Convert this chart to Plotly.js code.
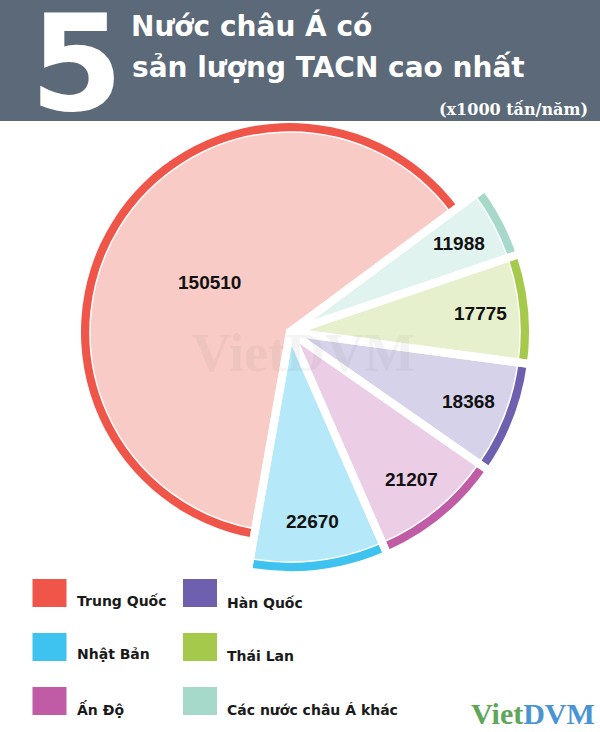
<!DOCTYPE html>
<html>
<head>
<meta charset="utf-8">
<script src="https://cdn.plot.ly/plotly-3.0.1.min.js"></script>
<style>
html,body{margin:0;padding:0;background:#ffffff;}
#chart{width:600px;height:732px;}
</style>
</head>
<body>
<div id="chart"></div>
<script>
// ---------- data ----------
const countries = ['Trung Quốc', 'Nhật Bản', 'Ấn Độ', 'Hàn Quốc', 'Thái Lan', 'Các nước châu Á khác'];
const values = [150510, 22670, 21207, 18368, 17775, 11988];
const darkColors = ['#ef5548', '#3ec3f0', '#c05ba5', '#6e60ae', '#a5ca4b', '#a7d9ca'];
const lightColors = ['#f9cbc6', '#b5e8f9', '#ebcde6', '#d6d2ea', '#e6f0cd', '#e1f3ee'];
const legendOrder = [0, 3, 1, 4, 2, 5]; // row-wise: col1 / col2

// ---------- geometry / style ----------
const W = 600, H = 732;
const CX = 290, CY = 332;
const R_BIG = 209, R_SMALL = 239, RING = 9, ROT = 190;

function dom(r) {
  return {x: [(CX - r) / W, (CX + r) / W], y: [(H - CY - r) / H, (H - CY + r) / H]};
}
const chinaMask = values.map((v, i) => i === 0);
const smallMask = values.map((v, i) => i !== 0);
const allMask = values.map(() => true);

function pieTrace(r, colors, mask, lineW, lineMask) {
  return {
    type: 'pie', values: values, labels: countries, sort: false,
    direction: 'counterclockwise', rotation: ROT,
    domain: dom(r), textinfo: 'none', hoverinfo: 'skip', showlegend: false,
    marker: {
      colors: colors.map((c, i) => mask[i] ? c : 'rgba(0,0,0,0)'),
      line: {color: '#ffffff', width: (lineMask || mask).map(m => m ? lineW : 0)}
    }
  };
}

const transparent = values.map(() => 'rgba(0,0,0,0)');
const data = [
  pieTrace(R_BIG, darkColors, chinaMask, 0),
  pieTrace(R_BIG - RING, lightColors, chinaMask, 1.5),
  pieTrace(R_SMALL, darkColors, smallMask, 0),
  pieTrace(R_SMALL - RING, lightColors, smallMask, 1.5),
  pieTrace(R_SMALL + 5, transparent, allMask, 8, allMask)
];

// ---------- slice value labels (from data angles) ----------
const total = values.reduce((a, b) => a + b, 0);
const deg = values.map(v => v / total * 360);
const mids = [];
mids[0] = ROT + deg[0] / 2;
let acc = 0;
for (let i = 1; i < values.length; i++) {
  mids[i] = ROT - acc - deg[i] / 2;
  acc += deg[i];
}
const annotations = [];
values.forEach((v, i) => {
  const r = i === 0 ? 0.45 * R_BIG : 0.80 * R_SMALL;
  const a = mids[i] * Math.PI / 180;
  const x = CX + r * Math.sin(a);
  const y = CY - r * Math.cos(a);
  annotations.push({
    xref: 'paper', yref: 'paper', x: x / W, y: 1 - y / H,
    xanchor: 'center', yanchor: 'middle', showarrow: false,
    text: String(v),
    font: {family: 'Liberation Sans, Arial, sans-serif', size: 19, color: '#111111', weight: 'bold'}
  });
});

// ---------- header ----------
function px(x) { return x / W; }
function py(y) { return 1 - y / H; }
const shapes = [
  {type: 'rect', xref: 'paper', yref: 'paper', x0: 0, x1: 1, y0: py(121), y1: 1,
   fillcolor: '#5b6978', line: {width: 0}, layer: 'above'}
];
annotations.push(
  {xref: 'paper', yref: 'paper', x: px(28), y: py(64), xanchor: 'left', yanchor: 'middle',
   showarrow: false, text: '5',
   font: {family: 'DejaVu Sans', size: 134, color: '#ffffff', weight: 'bold'}},
  {xref: 'paper', yref: 'paper', x: px(129), y: py(25.5), xanchor: 'left', yanchor: 'middle',
   showarrow: false, text: 'Nước châu Á có',
   font: {family: 'DejaVu Sans', size: 28, color: '#ffffff', weight: 'bold'}},
  {xref: 'paper', yref: 'paper', x: px(130), y: py(67.5), xanchor: 'left', yanchor: 'middle',
   showarrow: false, text: 'sản lượng TACN cao nhất',
   font: {family: 'DejaVu Sans', size: 28, color: '#ffffff', weight: 'bold'}},
  {xref: 'paper', yref: 'paper', x: px(590), y: py(109), xanchor: 'right', yanchor: 'middle',
   showarrow: false, text: '(x1000 tấn/năm)',
   font: {family: 'DejaVu Serif', size: 16, color: '#ffffff', weight: 'bold'}}
);

// ---------- watermark + logo ----------
annotations.push(
  {xref: 'paper', yref: 'paper', x: px(303), y: py(353), xanchor: 'center', yanchor: 'middle',
   showarrow: false, text: 'VietDVM',
   font: {family: 'Liberation Serif', size: 54, color: 'rgba(110,110,110,0.08)', weight: 'bold'}},
  {xref: 'paper', yref: 'paper', x: px(597), y: 0, xanchor: 'right', yanchor: 'bottom',
   showarrow: false,
   text: '<span style="color:#5ea65a">Viet</span><span style="color:#4b94d4">DVM</span>',
   font: {family: 'Liberation Serif', size: 30, color: '#4b94d4', weight: 'bold'}}
);

// ---------- legend (manual) ----------
const colX = [32.5, 183];
const rowY = [579, 633, 687];
const textDY = [22, 21, 21];
legendOrder.forEach((idx, k) => {
  const col = k % 2, row = Math.floor(k / 2);
  const x0 = colX[col], y0 = rowY[row];
  shapes.push({type: 'rect', xref: 'paper', yref: 'paper',
    x0: px(x0), x1: px(x0 + 34), y0: py(y0 + 28), y1: py(y0),
    fillcolor: darkColors[idx], line: {width: 0}});
  annotations.push({xref: 'paper', yref: 'paper', x: px(x0 + 42), y: py(y0 + textDY[row] + col * 1.5),
    xanchor: 'left', yanchor: 'middle', showarrow: false, text: countries[idx],
    font: {family: 'DejaVu Sans', size: 14, color: '#1a1a1a', weight: 'bold'}});
});

const layout = {
  width: W, height: H,
  margin: {l: 0, r: 0, t: 0, b: 0},
  paper_bgcolor: '#ffffff', plot_bgcolor: '#ffffff',
  showlegend: false,
  shapes: shapes,
  annotations: annotations
};

Plotly.newPlot('chart', data, layout, {displayModeBar: false, staticPlot: true});
</script>
</body>
</html>
